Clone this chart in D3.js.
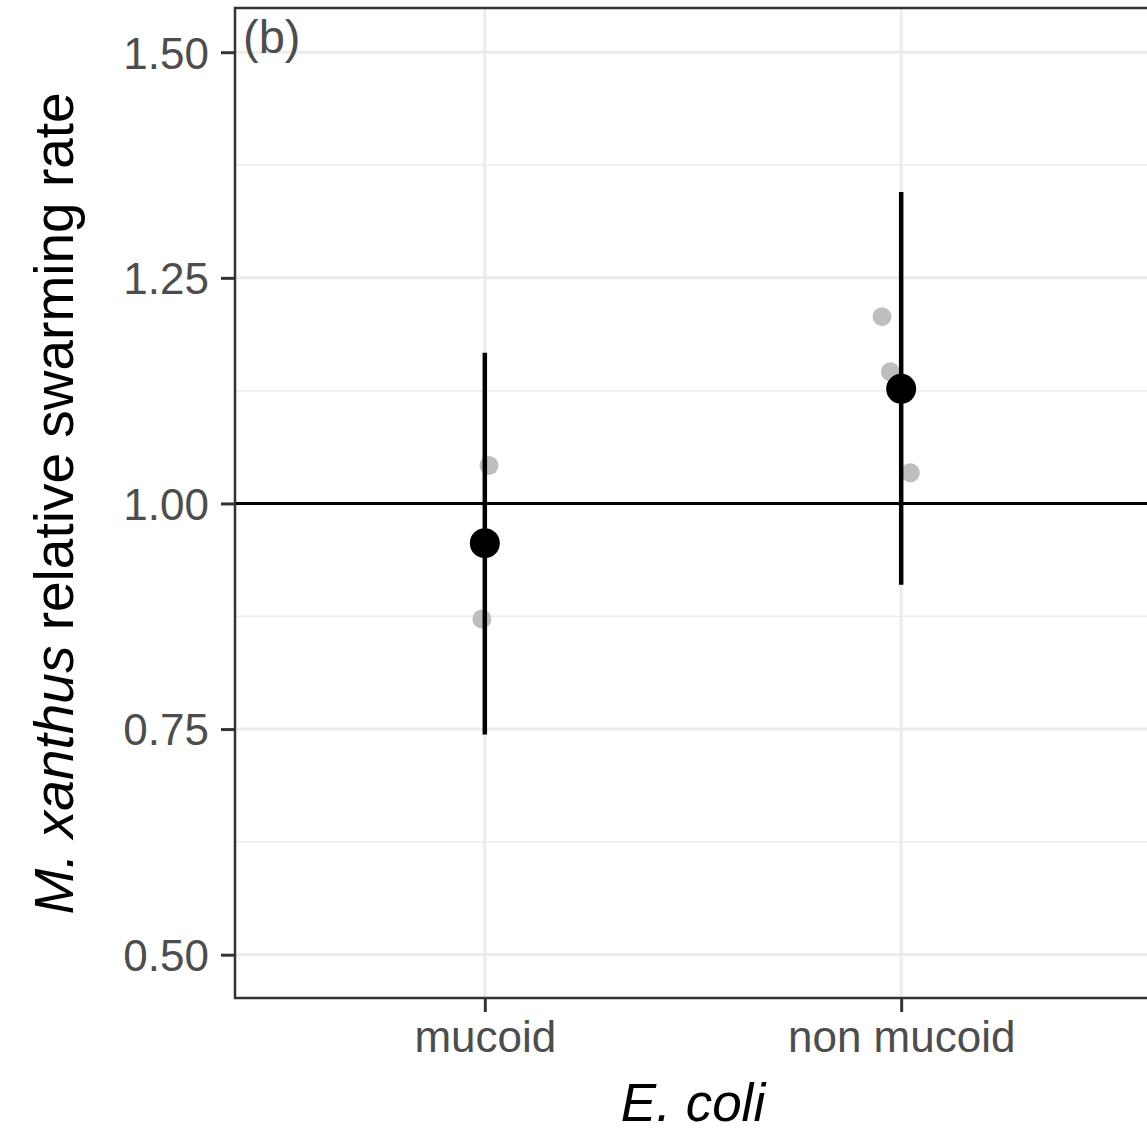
<!DOCTYPE html>
<html lang="en">
<head>
    <meta charset="UTF-8">
    <title>Swarming rate</title>
    <style>
        body { margin: 0; background: #fff; }
        text { font-family: "Liberation Sans", Arial, Helvetica, sans-serif; }
    </style>
</head>
<body>
    <script src="https://d3js.org/d3.v7.min.js"></script>
    <script>
        // data
        const categories = ["mucoid", "non mucoid"];
        const means = [0.956, 1.127];
        const lower = [0.744, 0.910];
        const upper = [1.167, 1.345];
        // raw replicates: category index, jitter (category units), value
        const rawCat = [0, 0, 1, 1, 1];
        const rawJitter = [0.010, -0.007, -0.046, -0.026, 0.022];
        const rawValue = [1.042, 0.872, 1.207, 1.146, 1.034];
        const yTicks = [0.50, 0.75, 1.00, 1.25, 1.50];
        const yMinor = [0.625, 0.875, 1.125, 1.375];

        const width = 1147, height = 1132;
        const panel = { left: 235, top: 8, right: 1151, bottom: 998 };

        const svg = d3.select("body").append("svg")
            .attr("width", width)
            .attr("height", height);

        const x = d3.scalePoint()
            .domain(categories)
            .range([panel.left, panel.right])
            .padding(0.6);
        const step = x.step();

        const y = d3.scaleLinear()
            .domain([0.452, 1.549])
            .range([panel.bottom, panel.top]);

        const g = svg.append("g");

        // minor grid
        g.selectAll(".minor")
            .data(yMinor)
            .enter().append("line")
            .attr("x1", panel.left).attr("x2", panel.right)
            .attr("y1", d => y(d)).attr("y2", d => y(d))
            .attr("stroke", "#ebebeb").attr("stroke-width", 1.5);

        // major grid
        g.selectAll(".majorY")
            .data(yTicks)
            .enter().append("line")
            .attr("x1", panel.left).attr("x2", panel.right)
            .attr("y1", d => y(d)).attr("y2", d => y(d))
            .attr("stroke", "#ebebeb").attr("stroke-width", 3);
        g.selectAll(".majorX")
            .data(categories)
            .enter().append("line")
            .attr("x1", d => x(d)).attr("x2", d => x(d))
            .attr("y1", panel.top).attr("y2", panel.bottom)
            .attr("stroke", "#ebebeb").attr("stroke-width", 3);

        // reference line at 1
        g.append("line")
            .attr("x1", panel.left).attr("x2", panel.right)
            .attr("y1", y(1)).attr("y2", y(1))
            .attr("stroke", "#000").attr("stroke-width", 3);

        // raw points
        g.selectAll(".raw")
            .data(rawValue)
            .enter().append("circle")
            .attr("cx", (d, i) => x(categories[rawCat[i]]) + rawJitter[i] * step)
            .attr("cy", d => y(d))
            .attr("r", 9.5)
            .attr("fill", "#bebebe");

        // error bars
        g.selectAll(".err")
            .data(categories)
            .enter().append("line")
            .attr("x1", d => x(d)).attr("x2", d => x(d))
            .attr("y1", (d, i) => y(lower[i])).attr("y2", (d, i) => y(upper[i]))
            .attr("stroke", "#000").attr("stroke-width", 4.5);

        // means
        g.selectAll(".mean")
            .data(categories)
            .enter().append("circle")
            .attr("cx", d => x(d))
            .attr("cy", (d, i) => y(means[i]))
            .attr("r", 15)
            .attr("fill", "#000");

        // panel border
        svg.append("rect")
            .attr("x", panel.left).attr("y", panel.top)
            .attr("width", panel.right - panel.left)
            .attr("height", panel.bottom - panel.top)
            .attr("fill", "none").attr("stroke", "#333").attr("stroke-width", 2.5);

        // axes
        const yAxis = svg.append("g")
            .attr("transform", "translate(" + panel.left + ",0)")
            .call(d3.axisLeft(y).tickValues(yTicks).tickFormat(d3.format(".2f"))
                .tickSize(14).tickPadding(12));
        const xAxis = svg.append("g")
            .attr("transform", "translate(0," + panel.bottom + ")")
            .call(d3.axisBottom(x).tickSize(14).tickPadding(8));

        [yAxis, xAxis].forEach(a => {
            a.select(".domain").remove();
            a.selectAll(".tick line").attr("stroke", "#333").attr("stroke-width", 3);
            a.selectAll(".tick text")
                .attr("fill", "#4d4d4d")
                .style("font-size", "44px")
                .style("font-family", "'Liberation Sans', Arial, sans-serif");
        });
        yAxis.selectAll(".tick text").attr("dy", "0.36em");
        xAxis.selectAll(".tick text").attr("dy", "0.72em");

        // panel tag
        svg.append("text")
            .attr("x", 243).attr("y", 53)
            .attr("fill", "#4d4d4d")
            .style("font-size", "47px")
            .text("(b)");

        // axis titles
        const xt = svg.append("text")
            .attr("x", (panel.left + panel.right) / 2)
            .attr("y", 1121)
            .attr("text-anchor", "middle")
            .style("font-size", "53px");
        xt.append("tspan").style("font-style", "italic").text("E. coli");

        const yt = svg.append("text")
            .attr("transform", "translate(73," + y(1) + ") rotate(-90)")
            .attr("text-anchor", "middle")
            .style("font-size", "55px");
        yt.append("tspan").style("font-style", "italic").text("M. xanthus");
        yt.append("tspan").text(" relative swarming rate");
    </script>
</body>
</html>
